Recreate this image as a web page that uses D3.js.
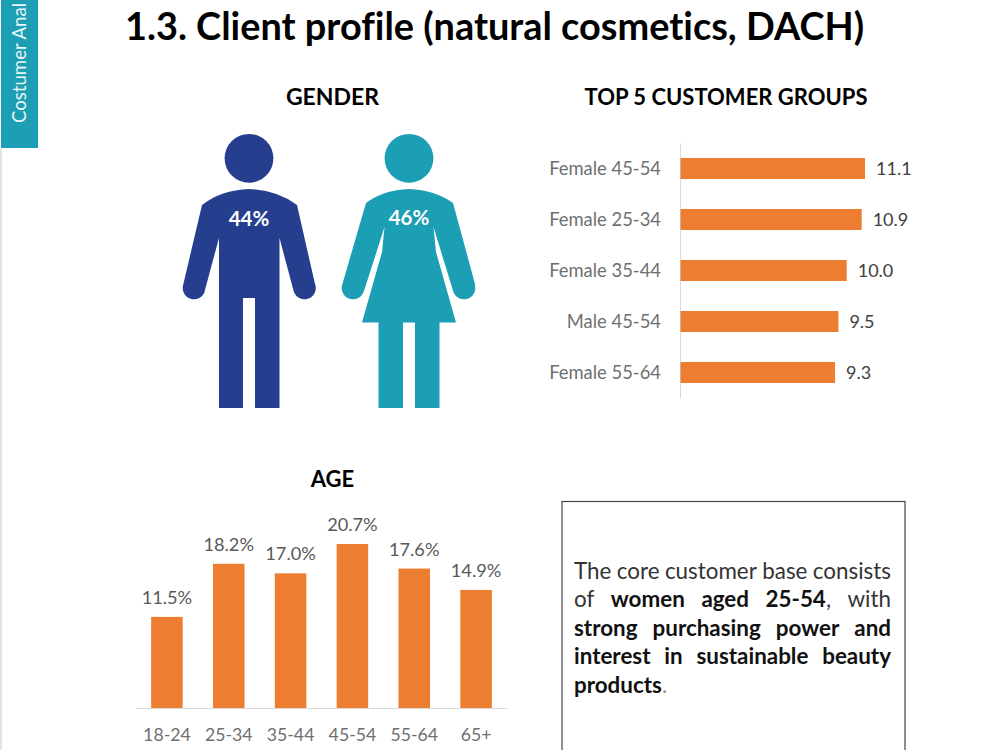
<!DOCTYPE html>
<html>
<head>
<meta charset="utf-8">
<title>Client profile</title>
<script src="https://cdnjs.cloudflare.com/ajax/libs/d3/7.8.5/d3.min.js"></script>
<style>
  html, body { margin: 0; padding: 0; background: #fff; overflow: hidden; }
  svg { display: block; font-family: Lato, "Open Sans", sans-serif; font-variant-ligatures: none; }
</style>
</head>
<body>
<svg id="chart" width="1000" height="750"></svg>
<script>
// Top customer groups
const groupNames = ["Female 45-54", "Female 25-34", "Female 35-44", "Male 45-54", "Female 55-64"];
const groupValues = [11.1, 10.9, 10.0, 9.5, 9.3];

// Age distribution
const ageBands = ["18-24", "25-34", "35-44", "45-54", "55-64", "65+"];
const ageShares = [11.5, 18.2, 17.0, 20.7, 17.6, 14.9];

// Gender shares
const genderLabels = ["44%", "46%"];

// Summary paragraph, one array per justified line: [word, bold]
const summaryLines = [
  [["The",0],["core",0],["customer",0],["base",0],["consists",0]],
  [["of",0],["women",1],["aged",1],["25-54",1],["with",0]],
  [["strong",1],["purchasing",1],["power",1],["and",1]],
  [["interest",1],["in",1],["sustainable",1],["beauty",1]]
];

const ORANGE = "#ed7d31", NAVY = "#253f8e", TEAL = "#1c9eb4";
const svg = d3.select("#chart");

// Side tab and page edge
svg.append("line").attr("x1", 1).attr("x2", 1).attr("y1", 148).attr("y2", 750)
  .attr("stroke", "#c8c8c8").attr("stroke-width", 1);
svg.append("rect").attr("x", 1).attr("y", 0).attr("width", 37).attr("height", 148).attr("fill", TEAL);
svg.append("text").attr("transform", "translate(25.5,123) rotate(-90)")
  .attr("fill", "#e8f6f8").attr("font-size", 18.6).text("Costumer Anal");

// Headings
svg.append("text").attr("x", 494.5).attr("y", 40).attr("text-anchor", "middle")
  .attr("font-size", 37.9).attr("font-weight", 700).attr("fill", "#000")
  .text("1.3. Client profile (natural cosmetics, DACH)");
[["GENDER", 332.5, 105, 23], ["TOP 5 CUSTOMER GROUPS", 726, 105, 22], ["AGE", 332.5, 487, 22]].forEach(([t, x, y, s]) => {
  svg.append("text").attr("x", x).attr("y", y).attr("text-anchor", "middle")
    .attr("font-size", s).attr("font-weight", 700).attr("fill", "#000").text(t);
});

// Pictograms: head plus a body outline built with d3.path
function manBody(cx) {
  const p = d3.path();
  p.moveTo(cx, 189);
  p.quadraticCurveTo(cx + 28, 190, cx + 48, 205);
  p.lineTo(cx + 66, 284);
  p.arc(cx + 55.5, 288, 11.3, -0.3, Math.PI - 0.3);
  p.lineTo(cx + 30.5, 238);
  p.lineTo(cx + 30.5, 408);
  p.lineTo(cx + 6, 408);
  p.lineTo(cx + 6, 298);
  p.lineTo(cx - 6, 298);
  p.lineTo(cx - 6, 408);
  p.lineTo(cx - 30, 408);
  p.lineTo(cx - 30, 238);
  p.lineTo(cx - 44.3, 291);
  p.arc(cx - 55, 288, 11.3, 0.3, Math.PI + 0.3);
  p.lineTo(cx - 47, 205);
  p.quadraticCurveTo(cx - 28, 190, cx, 189);
  p.closePath();
  return p.toString();
}
function womanBody(cx) {
  const p = d3.path();
  p.moveTo(cx, 189);
  p.quadraticCurveTo(cx + 26, 190, cx + 44, 203);
  p.lineTo(cx + 66, 284);
  p.arc(cx + 55, 288, 11.3, -0.3, Math.PI - 0.3);
  p.lineTo(cx + 24.5, 227);
  p.lineTo(cx + 27, 252);
  p.lineTo(cx + 47, 322.5);
  p.lineTo(cx + 30.5, 322.5);
  p.lineTo(cx + 30.5, 408);
  p.lineTo(cx + 6, 408);
  p.lineTo(cx + 6, 322.5);
  p.lineTo(cx - 6, 322.5);
  p.lineTo(cx - 6, 408);
  p.lineTo(cx - 30.5, 408);
  p.lineTo(cx - 30.5, 322.5);
  p.lineTo(cx - 47, 322.5);
  p.lineTo(cx - 27, 252);
  p.lineTo(cx - 24.5, 227);
  p.lineTo(cx - 45, 291);
  p.arc(cx - 56, 288, 11.3, 0.3, Math.PI + 0.3);
  p.lineTo(cx - 43, 203);
  p.quadraticCurveTo(cx - 26, 190, cx, 189);
  p.closePath();
  return p.toString();
}
[[249, NAVY, manBody, 226], [409, TEAL, womanBody, 225]].forEach(([cx, fill, body, ty], i) => {
  svg.append("circle").attr("cx", cx).attr("cy", 158.3).attr("r", 24.4).attr("fill", fill);
  svg.append("path").attr("d", body(cx)).attr("fill", fill);
  svg.append("text").attr("x", cx).attr("y", ty).attr("text-anchor", "middle")
    .attr("fill", "#fff").attr("font-weight", 700).attr("font-size", 20.5).text(genderLabels[i]);
});

// Horizontal bars: top customer groups
const gx = d3.scaleLinear().domain([0, 11.1]).range([680.5, 865]);
const gy = d3.scaleBand().domain(groupNames).range([143, 398]).paddingInner(30 / 51).paddingOuter(15 / 51);
const gAxis = svg.append("g").attr("transform", "translate(680,0)")
  .call(d3.axisLeft(gy).tickSize(0).tickPadding(19));
gAxis.select(".domain").attr("stroke", "#d9d9d9").attr("stroke-width", 1);
gAxis.selectAll("text").attr("font-size", 18.4).attr("font-family", "Lato, sans-serif")
  .attr("fill", "#6f6f6f").attr("dy", "0.37em");
svg.append("g").selectAll("rect").data(groupValues).join("rect")
  .attr("x", gx(0)).attr("y", (d, i) => gy(groupNames[i]))
  .attr("width", d => gx(d) - gx(0)).attr("height", gy.bandwidth()).attr("fill", ORANGE);
svg.append("g").selectAll("text").data(groupValues).join("text")
  .attr("x", d => gx(d) + 11).attr("y", (d, i) => gy(groupNames[i]) + gy.bandwidth() / 2 + 6.5)
  .attr("font-size", 18).attr("fill", "#404040").text(d => d.toFixed(1));

// Vertical bars: age distribution
const ax = d3.scaleBand().domain(ageBands).range([136, 507]).paddingInner(0.49).paddingOuter(0.245);
const ay = d3.scaleLinear().domain([0, 20.7]).range([708, 544]);
const aAxis = svg.append("g").attr("transform", "translate(0,708)")
  .call(d3.axisBottom(ax).tickSize(0).tickPadding(20));
aAxis.select(".domain").attr("stroke", "#d9d9d9").attr("stroke-width", 1);
aAxis.selectAll("text").attr("font-size", 17.7).attr("font-family", "Lato, sans-serif").attr("fill", "#6f6f6f");
svg.append("g").selectAll("rect").data(ageShares).join("rect")
  .attr("x", (d, i) => ax(ageBands[i])).attr("y", d => ay(d))
  .attr("width", ax.bandwidth()).attr("height", d => ay(0) - ay(d)).attr("fill", ORANGE);
svg.append("g").selectAll("text").data(ageShares).join("text")
  .attr("x", (d, i) => ax(ageBands[i]) + ax.bandwidth() / 2).attr("y", d => ay(d) - 13)
  .attr("text-anchor", "middle").attr("font-size", 18.2).attr("fill", "#595959").text(d => d.toFixed(1) + "%");

// Summary box with justified text
svg.append("rect").attr("x", 562).attr("y", 501.5).attr("width", 343).attr("height", 260)
  .attr("fill", "#fff").attr("stroke", "#444").attr("stroke-width", 1.2);
const lineLeft = 574, lineRight = 891, baselines = [579, 607, 636, 664];
const summarySize = 22.4;
summaryLines.forEach((words, li) => {
  const nodes = words.map(([w, bold], wi) => {
    const punct = li === 1 && wi === 3 ? "," : "";
    const t = svg.append("text").attr("y", baselines[li]).attr("font-size", summarySize)
      .attr("font-weight", bold ? 700 : 400).attr("fill", bold ? "#111" : "#333").text(w);
    if (punct) t.append("tspan").attr("font-weight", 400).attr("fill", "#333").text(punct);
    return t;
  });
  const widths = nodes.map(n => n.node().getComputedTextLength());
  const gap = (lineRight - lineLeft - d3.sum(widths)) / (nodes.length - 1);
  let x = lineLeft;
  nodes.forEach((n, i) => { n.attr("x", x); x += widths[i] + gap; });
});
const last = svg.append("text").attr("x", lineLeft).attr("y", 693).attr("font-size", summarySize);
last.append("tspan").attr("font-weight", 700).attr("fill", "#111").text("products");
last.append("tspan").attr("fill", "#999").text(".");
</script>
</body>
</html>
